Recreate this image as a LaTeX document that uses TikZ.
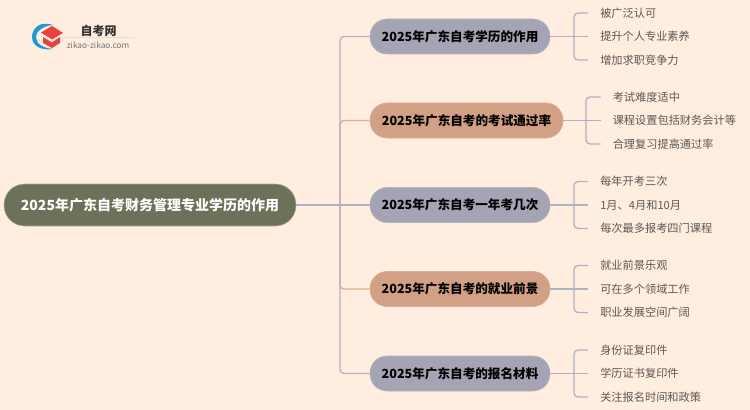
\documentclass[tikz,border=0pt]{standalone}
\usepackage{fontspec}
\setmainfont{Noto Sans CJK SC}
\usetikzlibrary{positioning}
\definecolor{bgpaper}{HTML}{FFEDE0}
\definecolor{rootgreen}{HTML}{6B7259}
\definecolor{pillgrey}{HTML}{A5A4B5}
\definecolor{pilltan}{HTML}{D1A085}
\definecolor{linegrey}{HTML}{B0B1C8}
\definecolor{linetan}{HTML}{E2AA8B}
\definecolor{leafgrey}{HTML}{5C5855}
\definecolor{logoblue}{HTML}{1E9BD7}
\definecolor{logored}{HTML}{E8423F}
\tikzset{
    rootpill/.style={rounded corners=20.5*0.75pt, fill=rootgreen, draw=rootgreen!50!bgpaper, text=white, font=\fontsize{10.5pt}{12pt}\selectfont\bfseries, minimum width=292*0.75pt, minimum height=42*0.75pt, inner sep=0pt},
    topicpill/.style={rounded corners=17*0.75pt, draw=#1!80!bgpaper, fill=#1, text=black, font=\fontsize{9.45pt}{12pt}\selectfont\bfseries, minimum height=35*0.75pt, inner sep=0pt},
    leaftext/.style={text=leafgrey, font=\fontsize{8.4pt}{10pt}\selectfont, anchor=west, inner sep=0pt},
    branch/.style={line width=1pt, rounded corners=3pt}
}
\begin{document}
\begin{tikzpicture}[x=0.75pt, y=-0.75pt]
    \useasboundingbox[fill=bgpaper] (0,0) rectangle (750,410);

    % Logo
    \fill[logoblue] (53,25) .. controls (38,20) and (32,30) .. (32,37) .. controls (32,45) and (40,51) .. (53,49) .. controls (43,48) and (36,44) .. (36,37) .. controls (36,31) and (43,26) .. (53,25) -- cycle;
    \fill[logored] (52,26) -- (63,33) -- (52,39.5) -- (41,32.5) -- cycle;
    \fill[logored] (43,37) -- (52,42.5) -- (60,37) -- (60,43) -- (52,48) -- (43,43) -- cycle;
    \node[font=\fontsize{9pt}{10pt}\selectfont\bfseries, text=black!80] (logotitle) at (98.5,31) {自考网};
    \node[font=\fontsize{6.2pt}{7pt}\selectfont, text=black!55] (logourl) at (98,45) {zikao-zikao.com};
    \draw[black!12, line width=0.4pt] (logourl.north west) -- (logourl.north east);

    % Root and topics
    \node[rootpill] (root) at (150,205) {2025年广东自考财务管理专业学历的作用};
    \coordinate (trunk) at (340,205);

    \node[topicpill=pillgrey, minimum width=180*0.75pt] (topicA) at (460,36.5) {2025年广东自考学历的作用};
    \node[topicpill=pilltan, minimum width=193*0.75pt] (topicB) at (466.5,120.5) {2025年广东自考的考试通过率};
    \node[topicpill=pillgrey, minimum width=180*0.75pt] (topicC) at (460,205) {2025年广东自考一年考几次};
    \node[topicpill=pilltan, minimum width=180*0.75pt] (topicD) at (460,289) {2025年广东自考的就业前景};
    \node[topicpill=pillgrey, minimum width=180*0.75pt] (topicE) at (460,373.5) {2025年广东自考的报名材料};

    % Connectors from root
    \draw[branch, linetan] (trunk) |- (topicB.west);
    \draw[branch, linetan] (trunk) |- (topicD.west);
    \draw[branch, linegrey] (trunk) |- (topicA.west);
    \draw[branch, linegrey] (trunk) |- (topicE.west);
    \draw[branch, linegrey] (root.east) -- (topicC.west);

    % Leaves of each topic
    \foreach \topic/\bx/\tx/\ty/\la/\lb/\lc in {
        topicA/574/600/36.5/被广泛认可/提升个人专业素养/增加求职竞争力,
        topicB/586/612.5/120.5/考试难度适中/课程设置包括财务会计等/合理复习提高通过率,
        topicC/574/600/205/每年开考三次/1月、4月和10月/每次最多报考四门课程,
        topicD/574/600/289/就业前景乐观/可在多个领域工作/职业发展空间广阔,
        topicE/574/600/373.5/身份证复印件/学历证书复印件/关注报名时间和政策
    } {
        \node[leaftext] (\topic la) at (\tx,\ty-23.5) {\la};
        \node[leaftext] (\topic lb) at (\tx,\ty) {\lb};
        \node[leaftext] (\topic lc) at (\tx,\ty+23.5) {\lc};
        \coordinate (\topic fork) at (\bx,\ty);
        \draw[branch, linegrey] (\topic.east) -- ([xshift=-12*0.75pt]\topic lb.west);
        \draw[branch, linegrey] (\topic fork) |- ([xshift=-12*0.75pt]\topic la.west);
        \draw[branch, linegrey] (\topic fork) |- ([xshift=-12*0.75pt]\topic lc.west);
    }
\end{tikzpicture}
\end{document}
